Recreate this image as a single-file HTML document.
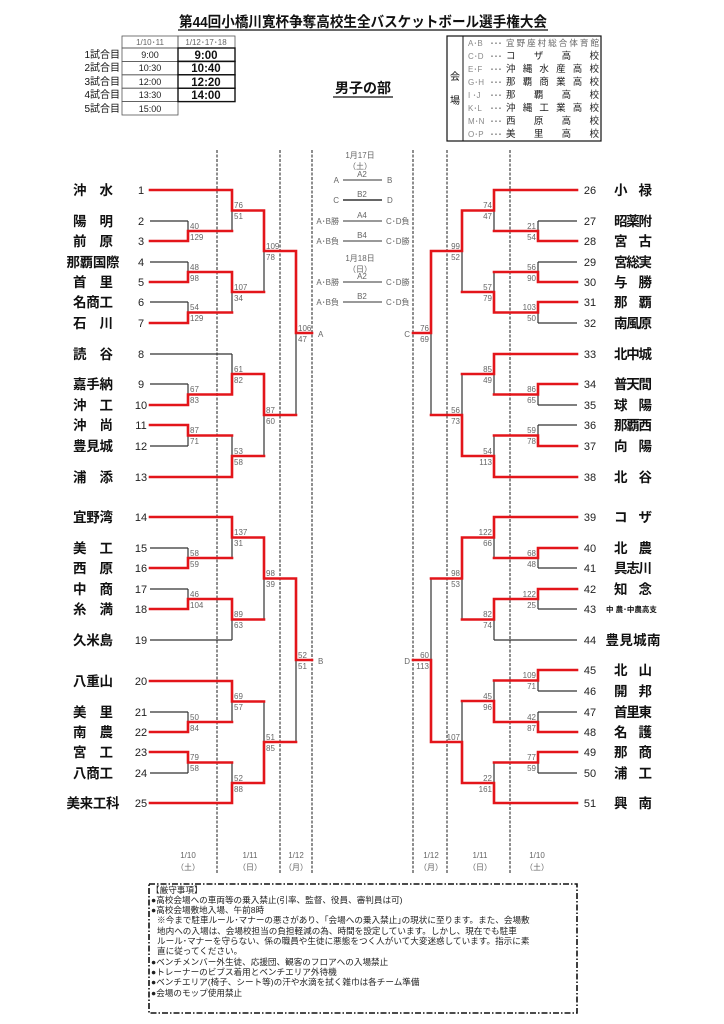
<!DOCTYPE html>
<html><head><meta charset="utf-8"><style>
html,body{margin:0;padding:0;background:#fff;}
svg{display:block;font-family:"Liberation Sans","Noto Sans CJK JP",sans-serif;}
.nm{font-size:13.5px;font-weight:bold;fill:#111;}
.no{font-size:11px;fill:#222;}
.sc{font-size:8px;fill:#666;}
.sr{font-size:8px;fill:#666;text-anchor:end;}
.g{font-size:8px;fill:#666;}
.nt{font-size:8.6px;fill:#222;}
</style></head><body>
<svg width="724" height="1024" viewBox="0 0 724 1024" xmlns="http://www.w3.org/2000/svg">
<!-- title -->
<text x="363" y="27" text-anchor="middle" font-size="14.5" font-weight="bold" fill="#111" textLength="368" lengthAdjust="spacingAndGlyphs">第44回小橋川寛杯争奪高校生全バスケットボール選手権大会</text>
<line x1="178" y1="30" x2="548" y2="30" stroke="#111" stroke-width="1.2"/>
<!-- time table -->
<g fill="none" stroke="#555" stroke-width="0.8">
<rect x="122" y="36" width="56" height="12"/><rect x="178" y="36" width="57" height="12"/>
<rect x="122" y="48" width="56" height="13.4"/><rect x="122" y="61.4" width="56" height="13.4"/><rect x="122" y="74.8" width="56" height="13.4"/><rect x="122" y="88.2" width="56" height="13.4"/><rect x="122" y="101.6" width="56" height="13.4"/>
</g>
<g fill="none" stroke="#111" stroke-width="1.4">
<rect x="178" y="48" width="57" height="13.4"/><rect x="178" y="61.4" width="57" height="13.4"/><rect x="178" y="74.8" width="57" height="13.4"/><rect x="178" y="88.2" width="57" height="13.4"/>
</g>
<text x="150" y="45" text-anchor="middle" class="g">1/10･11</text>
<text x="206" y="45" text-anchor="middle" class="g">1/12･17･18</text>
<g font-size="10" fill="#111" text-anchor="end">
<text x="120" y="58">1試合目</text><text x="120" y="71">2試合目</text><text x="120" y="85">3試合目</text><text x="120" y="98">4試合目</text><text x="120" y="112">5試合目</text>
</g>
<g font-size="9" fill="#222" text-anchor="middle">
<text x="150" y="58">9:00</text><text x="150" y="71">10:30</text><text x="150" y="85">12:00</text><text x="150" y="98">13:30</text><text x="150" y="112">15:00</text>
</g>
<g font-size="11.5" font-weight="bold" fill="#111" text-anchor="middle">
<text x="206" y="59">9:00</text><text x="206" y="72">10:40</text><text x="206" y="86">12:20</text><text x="206" y="99">14:00</text>
</g>
<!-- venue -->
<rect x="447" y="36" width="154" height="105" fill="none" stroke="#111" stroke-width="1.2"/>
<line x1="463" y1="36" x2="463" y2="141" stroke="#111" stroke-width="1"/>
<text x="455" y="80" text-anchor="middle" font-size="10" fill="#111">会</text>
<text x="455" y="104" text-anchor="middle" font-size="10" fill="#111">場</text>
<g font-size="8" fill="#888">
<text x="468" y="46">A･B</text><text x="468" y="59">C･D</text><text x="468" y="72">E･F</text><text x="468" y="85">G･H</text><text x="468" y="98">I ･J</text><text x="468" y="111">K･L</text><text x="468" y="124">M･N</text><text x="468" y="137">O･P</text>
</g>
<g font-size="8" fill="#333">
<text x="490" y="46">･･･</text><text x="490" y="59">･･･</text><text x="490" y="72">･･･</text><text x="490" y="85">･･･</text><text x="490" y="98">･･･</text><text x="490" y="111">･･･</text><text x="490" y="124">･･･</text><text x="490" y="137">･･･</text>
</g>
<g font-size="9.5" fill="#222" lengthAdjust="spacing">
<text x="506" y="46" textLength="93" font-size="8.5" fill="#666">宜野座村総合体育館</text>
<text x="506" y="59" textLength="93">コザ高校</text>
<text x="506" y="72" textLength="93">沖縄水産高校</text>
<text x="506" y="85" textLength="93">那覇商業高校</text>
<text x="506" y="98" textLength="93">那覇高校</text>
<text x="506" y="111" textLength="93">沖縄工業高校</text>
<text x="506" y="124" textLength="93">西原高校</text>
<text x="506" y="137" textLength="93">美里高校</text>
</g>
<text x="363" y="93" text-anchor="middle" font-size="14" font-weight="bold" fill="#111">男子の部</text>
<line x1="333" y1="97" x2="393" y2="97" stroke="#111" stroke-width="1.2"/>

<!-- dashed lines -->
<g stroke="#444" stroke-width="1.2" stroke-dasharray="3,1.5">
<line x1="217" y1="150" x2="217" y2="873"/><line x1="280" y1="150" x2="280" y2="873"/><line x1="312" y1="150" x2="312" y2="873"/>
<line x1="413" y1="150" x2="413" y2="873"/><line x1="447" y1="150" x2="447" y2="873"/><line x1="510" y1="150" x2="510" y2="873"/>
</g>

<!-- center schedule -->
<g class="g" text-anchor="middle">
<text x="360" y="158">1月17日</text><text x="360" y="169">（土）</text>
<text x="362" y="177">A2</text><text x="362" y="197">B2</text><text x="362" y="218">A4</text><text x="362" y="238">B4</text>
<text x="360" y="261">1月18日</text><text x="360" y="272">（日）</text>
<text x="362" y="279">A2</text><text x="362" y="299">B2</text>
</g>
<g class="g" text-anchor="end">
<text x="339" y="183">A</text><text x="339" y="203">C</text><text x="339" y="224">A･B勝</text><text x="339" y="244">A･B負</text><text x="339" y="285">A･B勝</text><text x="339" y="305">A･B負</text>
</g>
<g class="g">
<text x="387" y="183">B</text><text x="387" y="203">D</text><text x="386" y="224">C･D負</text><text x="386" y="244">C･D勝</text><text x="386" y="285">C･D勝</text><text x="386" y="305">C･D負</text>
</g>
<g stroke="#333" stroke-width="1">
<line x1="343" y1="180" x2="382" y2="180"/><line x1="343" y1="200" x2="382" y2="200" stroke-width="1.6"/><line x1="343" y1="221" x2="382" y2="221"/><line x1="343" y1="241" x2="382" y2="241"/><line x1="343" y1="282" x2="382" y2="282"/><line x1="343" y1="302" x2="382" y2="302"/>
</g>

<!-- bracket black -->
<path fill="none" stroke="#333" stroke-width="1.2" d="
M150 221H188 M150 262H188 M150 302H188 M150 354H232 M150 384H188 M150 446H188
M188 221V231 M188 262V272 M188 302V312.5 M188 384V394.5 M188 435.5V446 M232 210.5V231 M232 292V312.5 M232 354V374 M232 435.5V456 M264 251V292 M264 415V456 M296 333V415
M150 548H188 M150 589H188 M150 640H232 M150 712H188 M150 773H188 M188 548V558 M188 589V599 M188 712V722 M188 762.5V773 M232 537.5V558 M232 619.5V640 M232 701.5V722 M232 762.5V783 M264 578.5V619.5 M264 701.5V742 M296 660V742
M577 221H538 M577 262H538 M577 323H538 M577 405H538 M577 425H538 M538 221V231 M538 262V272 M538 312.5V323 M538 394.5V405 M538 425V435.5 M494 210.5V231 M494 272V292 M494 374V394.5 M494 435.5V456 M462 251V292 M462 374V415 M431 333V415
M577 568H538 M577 609H538 M577 640H494 M577 691H538 M577 712H538 M577 773H538 M538 558V568 M538 599V609 M538 680.5V691 M538 712V722 M538 762.5V773 M494 537.5V558 M494 619.5V640 M494 680.5V701 M494 762.5V783 M462 578.5V619.5 M462 701V742 M431 578.5V660"/>
<!-- bracket red -->
<path fill="none" stroke="#e3151a" stroke-width="2.6" stroke-linecap="square" d="
M150 190H232 M150 241H188 M150 282H188 M150 323H188 M150 405H188 M150 425H188 M150 477H232
M188 231V241 M188 231H232 M188 272V282 M188 272H232 M188 312.5V323 M188 312.5H232 M188 394.5V405 M188 394.5H232 M188 425V435.5 M188 435.5H232
M232 190V210.5 M232 210.5H264 M232 272V292 M232 292H264 M232 374V394.5 M232 374H264 M232 456V477 M232 456H264
M264 210.5V251 M264 251H296 M264 374V415 M264 415H296 M296 251V333 M296 333H312
M150 517H232 M150 568H188 M150 609H188 M150 681H232 M150 732H188 M150 752H188 M150 803H232
M188 558V568 M188 558H232 M188 599V609 M188 599H232 M188 722V732 M188 722H232 M188 752V762.5 M188 762.5H232
M232 517V537.5 M232 537.5H264 M232 599V619.5 M232 619.5H264 M232 681V701.5 M232 701.5H264 M232 783V803 M232 783H264
M264 537.5V578.5 M264 578.5H296 M264 742V783 M264 742H296 M296 578.5V660 M296 660H312
M577 190H494 M577 241H538 M577 282H538 M577 302H538 M577 354H494 M577 384H538 M577 446H538 M577 477H494
M538 231V241 M538 231H494 M538 272V282 M538 272H494 M538 302V312.5 M538 312.5H494 M538 384V394.5 M538 394.5H494 M538 435.5V446 M538 435.5H494
M494 190V210.5 M494 210.5H462 M494 292V312.5 M494 292H462 M494 354V374 M494 374H462 M494 456V477 M494 456H462
M462 210.5V251 M462 251H431 M462 415V456 M462 415H431 M431 251V333 M431 333H413
M577 517H494 M577 548H538 M577 589H538 M577 670H538 M577 732H538 M577 752H538 M577 803H494
M538 548V558 M538 558H494 M538 589V599 M538 599H494 M538 670V680.5 M538 680.5H494 M538 722V732 M538 722H494 M538 752V762.5 M538 762.5H494
M494 517V537.5 M494 537.5H462 M494 599V619.5 M494 619.5H462 M494 701V722 M494 701H462 M494 783V803 M494 783H462
M462 537.5V578.5 M462 578.5H431 M462 742V783 M462 742H431 M431 660V742 M431 660H413"/>

<g class="g"><text x="318" y="337">A</text><text x="318" y="664">B</text></g>
<g class="g" text-anchor="end"><text x="410" y="337">C</text><text x="410" y="664">D</text></g>

<!-- left scores -->
<g class="sc">
<text x="190" y="229">40</text><text x="190" y="240">129</text>
<text x="190" y="270">48</text><text x="190" y="281">98</text>
<text x="190" y="310">54</text><text x="190" y="321">129</text>
<text x="190" y="392">67</text><text x="190" y="403">83</text>
<text x="190" y="433">87</text><text x="190" y="444">71</text>
<text x="234" y="208">76</text><text x="234" y="219">51</text>
<text x="234" y="290">107</text><text x="234" y="301">34</text>
<text x="234" y="372">61</text><text x="234" y="383">82</text>
<text x="234" y="454">53</text><text x="234" y="465">58</text>
<text x="266" y="249">109</text><text x="266" y="260">78</text>
<text x="266" y="413">87</text><text x="266" y="424">60</text>
<text x="298" y="331">106</text><text x="298" y="342">47</text>
<text x="190" y="556">58</text><text x="190" y="567">59</text>
<text x="190" y="597">46</text><text x="190" y="608">104</text>
<text x="190" y="720">50</text><text x="190" y="731">84</text>
<text x="190" y="760">79</text><text x="190" y="771">58</text>
<text x="234" y="535">137</text><text x="234" y="546">31</text>
<text x="234" y="617">89</text><text x="234" y="628">63</text>
<text x="234" y="699">69</text><text x="234" y="710">57</text>
<text x="234" y="781">52</text><text x="234" y="792">88</text>
<text x="266" y="576">98</text><text x="266" y="587">39</text>
<text x="266" y="740">51</text><text x="266" y="751">85</text>
<text x="298" y="658">52</text><text x="298" y="669">51</text>
</g>
<!-- right scores -->
<g class="sr">
<text x="536" y="229">21</text><text x="536" y="240">54</text>
<text x="536" y="270">56</text><text x="536" y="281">90</text>
<text x="536" y="310">103</text><text x="536" y="321">50</text>
<text x="536" y="392">86</text><text x="536" y="403">65</text>
<text x="536" y="433">59</text><text x="536" y="444">78</text>
<text x="492" y="208">74</text><text x="492" y="219">47</text>
<text x="492" y="290">57</text><text x="492" y="301">79</text>
<text x="492" y="372">85</text><text x="492" y="383">49</text>
<text x="492" y="454">54</text><text x="492" y="465">113</text>
<text x="460" y="249">99</text><text x="460" y="260">52</text>
<text x="460" y="413">56</text><text x="460" y="424">73</text>
<text x="429" y="331">76</text><text x="429" y="342">69</text>
<text x="536" y="556">68</text><text x="536" y="567">48</text>
<text x="536" y="597">122</text><text x="536" y="608">25</text>
<text x="536" y="678">109</text><text x="536" y="689">71</text>
<text x="536" y="720">42</text><text x="536" y="731">87</text>
<text x="536" y="760">77</text><text x="536" y="771">59</text>
<text x="492" y="535">122</text><text x="492" y="546">66</text>
<text x="492" y="617">82</text><text x="492" y="628">74</text>
<text x="492" y="699">45</text><text x="492" y="710">96</text>
<text x="492" y="781">22</text><text x="492" y="792">161</text>
<text x="460" y="576">98</text><text x="460" y="587">53</text>
<text x="460" y="740">107</text>
<text x="429" y="658">60</text><text x="429" y="669">113</text>
</g>

<!-- left team numbers -->
<g class="no" text-anchor="middle">
<text x="141" y="194">1</text><text x="141" y="225">2</text><text x="141" y="245">3</text><text x="141" y="266">4</text><text x="141" y="286">5</text><text x="141" y="306">6</text><text x="141" y="327">7</text><text x="141" y="358">8</text><text x="141" y="388">9</text><text x="141" y="409">10</text><text x="141" y="429">11</text><text x="141" y="450">12</text><text x="141" y="481">13</text>
<text x="141" y="521">14</text><text x="141" y="552">15</text><text x="141" y="572">16</text><text x="141" y="593">17</text><text x="141" y="613">18</text><text x="141" y="644">19</text><text x="141" y="685">20</text><text x="141" y="716">21</text><text x="141" y="736">22</text><text x="141" y="756">23</text><text x="141" y="777">24</text><text x="141" y="807">25</text>
</g>
<g class="no" text-anchor="middle">
<text x="590" y="194">26</text><text x="590" y="225">27</text><text x="590" y="245">28</text><text x="590" y="266">29</text><text x="590" y="286">30</text><text x="590" y="306">31</text><text x="590" y="327">32</text><text x="590" y="358">33</text><text x="590" y="388">34</text><text x="590" y="409">35</text><text x="590" y="429">36</text><text x="590" y="450">37</text><text x="590" y="481">38</text>
<text x="590" y="521">39</text><text x="590" y="552">40</text><text x="590" y="572">41</text><text x="590" y="593">42</text><text x="590" y="613">43</text><text x="590" y="644">44</text><text x="590" y="674">45</text><text x="590" y="695">46</text><text x="590" y="716">47</text><text x="590" y="736">48</text><text x="590" y="756">49</text><text x="590" y="777">50</text><text x="590" y="807">51</text>
</g>
<!-- left names -->
<g class="nm" text-anchor="middle" lengthAdjust="spacing">
<text x="93" y="195" textLength="40">沖水</text><text x="93" y="226" textLength="40">陽明</text><text x="93" y="246" textLength="40">前原</text><text x="93" y="267" textLength="53">那覇国際</text><text x="93" y="287" textLength="40">首里</text><text x="93" y="307" textLength="40">名商工</text><text x="93" y="328" textLength="40">石川</text><text x="93" y="359" textLength="40">読谷</text><text x="93" y="389" textLength="40">嘉手納</text><text x="93" y="410" textLength="40">沖工</text><text x="93" y="430" textLength="40">沖尚</text><text x="93" y="451" textLength="40">豊見城</text><text x="93" y="482" textLength="40">浦添</text>
<text x="93" y="522" textLength="40">宜野湾</text><text x="93" y="553" textLength="40">美工</text><text x="93" y="573" textLength="40">西原</text><text x="93" y="594" textLength="40">中商</text><text x="93" y="614" textLength="40">糸満</text><text x="93" y="645" textLength="40">久米島</text><text x="93" y="686" textLength="40">八重山</text><text x="93" y="717" textLength="40">美里</text><text x="93" y="737" textLength="40">南農</text><text x="93" y="757" textLength="40">宮工</text><text x="93" y="778" textLength="40">八商工</text><text x="93" y="808" textLength="53">美来工科</text>
</g>
<!-- right names -->
<g class="nm" text-anchor="middle" lengthAdjust="spacing">
<text x="633" y="195" textLength="38">小禄</text><text x="633" y="226" textLength="38">昭薬附</text><text x="633" y="246" textLength="38">宮古</text><text x="633" y="267" textLength="38">宮総実</text><text x="633" y="287" textLength="38">与勝</text><text x="633" y="307" textLength="38">那覇</text><text x="633" y="328" textLength="38">南風原</text><text x="633" y="359" textLength="38">北中城</text><text x="633" y="389" textLength="38">普天間</text><text x="633" y="410" textLength="38">球陽</text><text x="633" y="430" textLength="38">那覇西</text><text x="633" y="451" textLength="38">向陽</text><text x="633" y="482" textLength="38">北谷</text>
<text x="633" y="522" textLength="38">コザ</text><text x="633" y="553" textLength="38">北農</text><text x="633" y="573" textLength="38">具志川</text><text x="633" y="594" textLength="38">知念</text><text x="633" y="645" textLength="55">豊見城南</text><text x="633" y="675" textLength="38">北山</text><text x="633" y="696" textLength="38">開邦</text><text x="633" y="717" textLength="38">首里東</text><text x="633" y="737" textLength="38">名護</text><text x="633" y="757" textLength="38">那商</text><text x="633" y="778" textLength="38">浦工</text><text x="633" y="808" textLength="38">興南</text>
</g>
<text x="606" y="612" font-size="7.5" font-weight="bold" fill="#111">中 農･中農高支</text>

<!-- bottom dates -->
<g class="g" text-anchor="middle" font-size="8.5">
<text x="188" y="858">1/10</text><text x="188" y="870">（土）</text>
<text x="250" y="858">1/11</text><text x="250" y="870">（日）</text>
<text x="296" y="858">1/12</text><text x="296" y="870">（月）</text>
<text x="431" y="858">1/12</text><text x="431" y="870">（月）</text>
<text x="480" y="858">1/11</text><text x="480" y="870">（日）</text>
<text x="537" y="858">1/10</text><text x="537" y="870">（土）</text>
</g>

<!-- notes -->
<rect x="149" y="884" width="428" height="129" fill="none" stroke="#111" stroke-width="1.6" stroke-dasharray="6,2,1.5,2"/>
<g class="nt">
<text x="151" y="893">【厳守事項】</text>
<text x="151" y="903">●高校会場への車両等の乗入禁止(引率、監督、役員、審判員は可)</text>
<text x="151" y="913">●高校会場敷地入場、午前8時</text>
<text x="157" y="923">※今まで駐車ルール･マナーの悪さがあり、｢会場への乗入禁止｣の現状に至ります。また、会場敷</text>
<text x="157" y="934">地内への入場は、会場校担当の負担軽減の為、時間を設定しています。しかし、現在でも駐車</text>
<text x="157" y="944">ルール･マナーを守らない、係の職員や生徒に悪態をつく人がいて大変迷惑しています。指示に素</text>
<text x="157" y="954">直に従ってください。</text>
<text x="151" y="965">●ベンチメンバー外生徒、応援団、観客のフロアへの入場禁止</text>
<text x="151" y="975">●トレーナーのビブス着用とベンチエリア外待機</text>
<text x="151" y="985">●ベンチエリア(椅子、シート等)の汗や水滴を拭く雑巾は各チーム準備</text>
<text x="151" y="996">●会場のモップ使用禁止</text>
</g>
</svg>
</body></html>
